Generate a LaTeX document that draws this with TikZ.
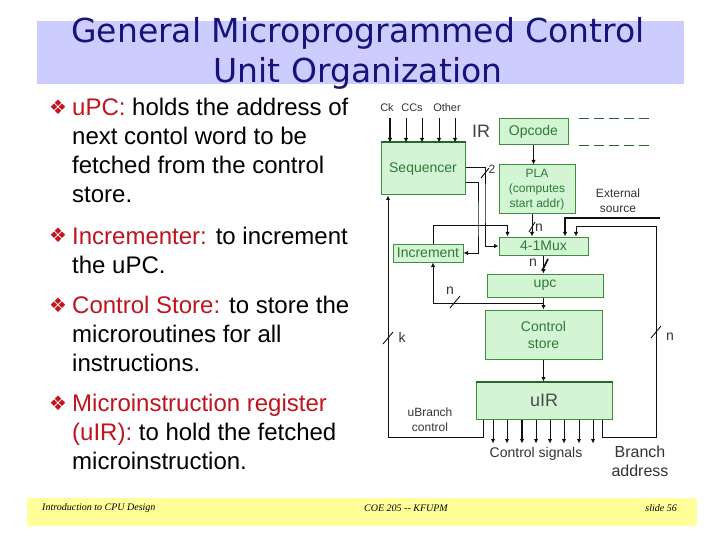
\documentclass[tikz,border=0pt]{standalone}
\usepackage{fontspec}
\setmainfont{Liberation Sans}
\newfontfamily\titlefont{DejaVu Sans}
\newfontfamily\symbfont{DejaVu Sans}
\newfontfamily\footfont{Liberation Serif}
\usepackage{xcolor}
\usetikzlibrary{arrows.meta}
\definecolor{band}{HTML}{CCCCFF}
\definecolor{navy}{HTML}{14147A}
\definecolor{keyred}{HTML}{C0141E}
\definecolor{note}{HTML}{FFFF99}
\definecolor{boxfill}{HTML}{D3F5D3}
\definecolor{boxline}{HTML}{3D8F3D}
\definecolor{boxtext}{HTML}{2E7A3A}
\definecolor{wire}{HTML}{111111}

\begin{document}
\begin{tikzpicture}[
  x=1pt,y=-1pt,
  every node/.style={inner sep=0pt,align=center},
  unit/.style={draw=boxline,fill=boxfill,line width=1pt,text=boxtext,font=\fontsize{14}{17}\selectfont},
  wire/.style={line width=0.9pt,draw=wire},
  arrow/.style={wire,-{Latex[length=4.5pt,width=4.5pt]}},
  slash/.style={line width=0.9pt,draw=wire},
  tag/.style={text=black!80,font=\fontsize{12}{15}\selectfont},
  point/.style={font=\fontsize{24}{29}\selectfont,align=left,anchor=base west},
  bullet/.style={text=keyred,font=\symbfont\fontsize{20}{20}\selectfont,anchor=base west}
]
\fill[white] (0,0) rectangle (720,540);

% title and footer bands
\fill[band] (37,21) rectangle (684,84);
\node[text=navy,font=\titlefont\fontsize{33}{40}\selectfont] (title) at (358,53) {General Microprogrammed Control\\Unit Organization};
\fill[note] (27,498) rectangle (697,526);
\node[font=\footfont\itshape\fontsize{10}{12}\selectfont,anchor=west] (ftleft) at (42,508) {Introduction to CPU Design};
\node[font=\footfont\itshape\fontsize{10}{12}\selectfont] (ftmid) at (406,508) {COE 205 -- KFUPM};
\node[font=\footfont\itshape\fontsize{10}{12}\selectfont,anchor=east] (ftright) at (677,508) {slide 56};

% bullet points (anchored at the baseline of their last line)
\node[bullet] (d1) at (49,115) {❖};
\node[point] (p1) at (72,203) {\textcolor{keyred}{uPC:} holds the address of\\next contol word to be\\fetched from the control\\store.};
\node[bullet] (d2) at (49,243) {❖};
\node[point] (p2) at (72,273) {\textcolor{keyred}{Incrementer:} to increment\\the uPC.};
\node[bullet] (d3) at (49,312) {❖};
\node[point] (p3) at (72,371) {\textcolor{keyred}{Control Store:} to store the\\microroutines for all\\instructions.};
\node[bullet] (d4) at (49,410) {❖};
\node[point] (p4) at (72,469) {\textcolor{keyred}{Microinstruction register}\\\textcolor{keyred}{(uIR):} to hold the fetched\\microinstruction.};

% units
\node[unit,minimum width=84,minimum height=52] (seq) at (423,169) {Sequencer};
\node[unit,minimum width=69,minimum height=26] (opcode) at (533.5,132) {Opcode};
\node[unit,minimum width=76,minimum height=49,font=\fontsize{12}{15}\selectfont] (pla) at (537,189.5) {PLA\\(computes\\start addr)};
\node[unit,minimum width=70,minimum height=18] (incr) at (428,253) {Increment};
\node[unit,minimum width=89,minimum height=18] (mux) at (543.5,246) {4-1Mux};
\node[unit,minimum width=116,minimum height=23] (upc) at (545,285.5) {upc};
\node[unit,minimum width=117,minimum height=49] (cstore) at (543.5,334.5) {Control\\store};
\node[unit,minimum width=136,minimum height=37,text=black!70,font=\fontsize{18}{22}\selectfont] (uir) at (544,400.5) {uIR};
\draw[boxline!70!black,line width=2pt] (seq.north west) -- (seq.north east);
\draw[boxline!70!black,line width=2pt] (uir.north west) -- (uir.north east);

% sequencer inputs
\node[tag,font=\fontsize{11}{13}\selectfont] (ck) at (387,108) {Ck};
\node[tag,font=\fontsize{11}{13}\selectfont] (ccs) at (412,108) {CCs};
\node[tag,font=\fontsize{11}{13}\selectfont] (other) at (447,108) {Other};
\foreach \x/\w [count=\i] in {390/1.8,406/0.9,422/0.9,439/0.9,455/0.9} {
  \coordinate (in\i) at (\x,118);
  \draw[arrow,line width=\w pt] (in\i) -- (in\i |- seq.north);
}

% IR and opcode
\node[font=\fontsize{18}{22}\selectfont,text=black!75] (ir) at (481,131) {IR};
\draw[boxline!70!black,line width=1.6pt,dash pattern=on 10pt off 5pt] ([xshift=10pt]opcode.north east) -- ++(70,0);
\draw[boxline!70!black,line width=1.6pt,dash pattern=on 10pt off 5pt] ([xshift=10pt]opcode.south east) -- ++(70,0);
\draw[arrow] (opcode.south) -- (opcode.south |- pla.north);

% sequencer outputs
\coordinate (selx) at (485,200);
\coordinate (incx) at (478,220);
\draw[arrow] ([yshift=2pt]seq.east) -| (selx) |- (mux.west);
\draw[slash] (485,173) +(-4,5) -- +(4,-5);
\node[tag] (two) at (492,169) {2};
\draw[arrow] ([yshift=-13pt]seq.east) -| (incx) |- (incr.east);

% inputs of the mux
\draw[arrow] ([xshift=5pt]incr.north) |- ([xshift=9pt,yshift=11pt]mux.north west) -- ([xshift=9pt]mux.north west);
\draw[arrow] ([xshift=-5pt]pla.south) -- ([xshift=-5pt]pla.south |- mux.north);
\draw[slash] (532,227) +(-3,5) -- +(3,-5);
\node[tag,font=\fontsize{14}{17}\selectfont] (npla) at (539,228) {n};
\node[tag] (extsrc) at (618,200.5) {External\\source};
\coordinate (ext) at (660,218);
\draw[wire,line width=2pt,-{Latex[length=4.5pt,width=4.5pt]}] (ext) -| ([xshift=21.5pt]mux.north);
\coordinate (brlow) at (656,437);
\coordinate (brhigh) at (656,226);
\draw[arrow] ([xshift=58pt]uir.south) |- (brlow) -- (brhigh) -| ([xshift=32.5pt]mux.north);
\draw[slash] (656,332) +(-5,6) -- +(5,-6);
\node[tag,font=\fontsize{14}{17}\selectfont] (nbr) at (670,337) {n};

% mux, upc, control store, uIR
\draw[arrow] (mux.south) -- (mux.south |- upc.north);
\draw[slash,line width=1.6pt] (545,265) +(-3,6) -- +(3,-6);
\node[tag,font=\fontsize{14}{17}\selectfont] (nmux) at (533,263) {n};
\draw[arrow] (mux.south |- upc.south) -- (mux.south |- cstore.north);
\coordinate (tap) at (543.5,303);
\draw[arrow] (tap) -| ([xshift=5pt]incr.south);
\draw[slash] (455,302) +(-5,6) -- +(5,-6);
\node[tag,font=\fontsize{14}{17}\selectfont] (nupc) at (450,291) {n};
\draw[arrow] (cstore.south) -- (cstore.south |- uir.north);

% uIR outputs
\coordinate (kb) at (388,437);
\draw[arrow] ([xshift=-61pt]uir.south) |- (kb) -- (kb |- seq.south);
\draw[slash] (388,338) +(-5,6) -- +(5,-6);
\node[tag,font=\fontsize{14}{17}\selectfont] (kbits) at (402,337) {k};
\node[tag] (ubr) at (430,420) {uBranch\\control};
\foreach \dx/\w in {-51/0.9,-37/0.9,-22/1.8,-8/0.9,6/0.9,20/0.9,35/0.9,49/0.9}
  \draw[arrow,line width=\w pt] ([xshift=\dx pt]uir.south) -- ++(0,24);
\node[tag,font=\fontsize{14}{17}\selectfont] (ctrlsig) at (536,454) {Control signals};
\node[tag,font=\fontsize{16}{19}\selectfont] (braddr) at (640,461.5) {Branch\\address};
\end{tikzpicture}
\end{document}
